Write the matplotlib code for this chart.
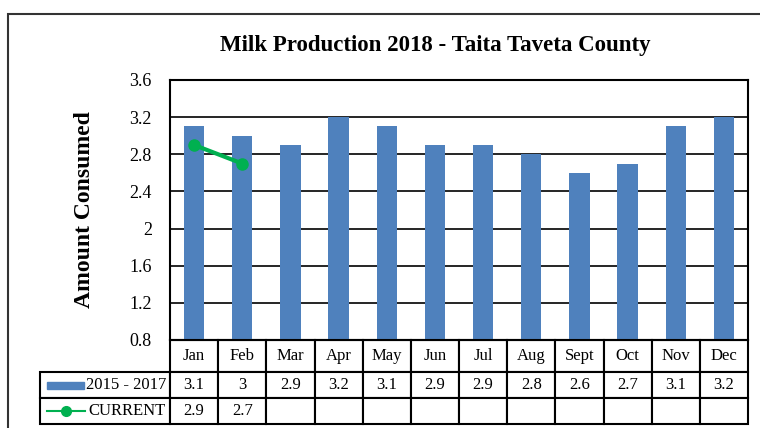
import matplotlib.pyplot as plt
from matplotlib.lines import Line2D
from matplotlib.patches import Rectangle

plt.rcParams['font.family'] = ['Liberation Serif', 'DejaVu Serif']

months = ['Jan', 'Feb', 'Mar', 'Apr', 'May', 'Jun', 'Jul', 'Aug', 'Sept', 'Oct', 'Nov', 'Dec']
avg_2015_2017 = [3.1, 3, 2.9, 3.2, 3.1, 2.9, 2.9, 2.8, 2.6, 2.7, 3.1, 3.2]
current = [2.9, 2.7]
series_names = ['2015 - 2017', 'CURRENT']

bar_color = '#4F81BD'
line_color = '#00B050'

fig = plt.figure(figsize=(7.6, 4.28), dpi=100)
ax = fig.add_axes([170 / 760, 88 / 428, 578 / 760, 260 / 428])

x = range(len(months))
ax.bar(x, avg_2015_2017, width=0.42, color=bar_color, zorder=2)
ax.plot(range(len(current)), current, color=line_color, lw=3, marker='o', ms=8, zorder=3)

ax.set_xlim(-0.5, len(months) - 0.5)
ax.set_ylim(0.8, 3.6)
ax.set_yticks([0.8, 1.2, 1.6, 2.0, 2.4, 2.8, 3.2, 3.6])
ax.set_yticklabels(['0.8', '1.2', '1.6', '2', '2.4', '2.8', '3.2', '3.6'], fontsize=13)
ax.tick_params(axis='y', length=0, pad=13)
ax.set_xticks([])
ax.yaxis.grid(True, color='black', lw=1.2, zorder=1)
ax.set_axisbelow(True)
for s in ax.spines.values():
    s.set_linewidth(1.5)
    s.set_color('black')

ax.set_ylabel('Amount Consumed', fontsize=17, fontweight='bold', labelpad=25)
fig.text(435 / 760, 1 - 46 / 428, 'Milk Production 2018 - Taita Taveta County',
         ha='center', va='center', fontsize=16.5, fontweight='bold')

# data table under the plot
label_w = 130 / 578
cell_w = 1 / len(months)
rows = [[''] + months,
        [''] + [f'{v:g}' for v in avg_2015_2017],
        [''] + [f'{v:g}' for v in current] + [''] * (len(months) - len(current))]
tbl = ax.table(cellText=rows, cellLoc='center',
               colWidths=[label_w] + [cell_w] * len(months),
               bbox=[-label_w, -84 / 260, 1 + label_w, 84 / 260])
tbl.auto_set_font_size(False)
tbl.set_fontsize(12)
row_h = [32 / 84, 26 / 84, 26 / 84]
for (r, c), cell in tbl.get_celld().items():
    cell.set_linewidth(1.5)
    cell.set_edgecolor('black')
    cell.set_height(row_h[r] * 84 / 260)
tbl[0, 0].visible_edges = ''

# legend keys in the first column
y1 = -(32 + 13) / 260
y2 = -(32 + 26 + 13) / 260
x0 = -label_w + 7 / 578
ax.add_patch(Rectangle((x0, y1 - 3.5 / 260), 37 / 578, 7 / 260, color=bar_color,
                       transform=ax.transAxes, clip_on=False))
ax.add_line(Line2D([x0, x0 + 38 / 578], [y2, y2], color=line_color, lw=1.5,
                   transform=ax.transAxes, clip_on=False))
ax.add_line(Line2D([x0 + 19 / 578], [y2], color=line_color, marker='o', ms=7,
                   transform=ax.transAxes, clip_on=False))
ax.text(x0 + 39 / 578, y1, series_names[0], transform=ax.transAxes,
        ha='left', va='center', fontsize=12)
ax.text(x0 + 41 / 578, y2, series_names[1], transform=ax.transAxes,
        ha='left', va='center', fontsize=12)

# chart border
fig.patches.append(Rectangle((8 / 760, -0.1), 1.2, 1.1 - 14 / 428, fill=False,
                             edgecolor='#333333', lw=1.5, transform=fig.transFigure))

fig.savefig('out.png', dpi=100)
